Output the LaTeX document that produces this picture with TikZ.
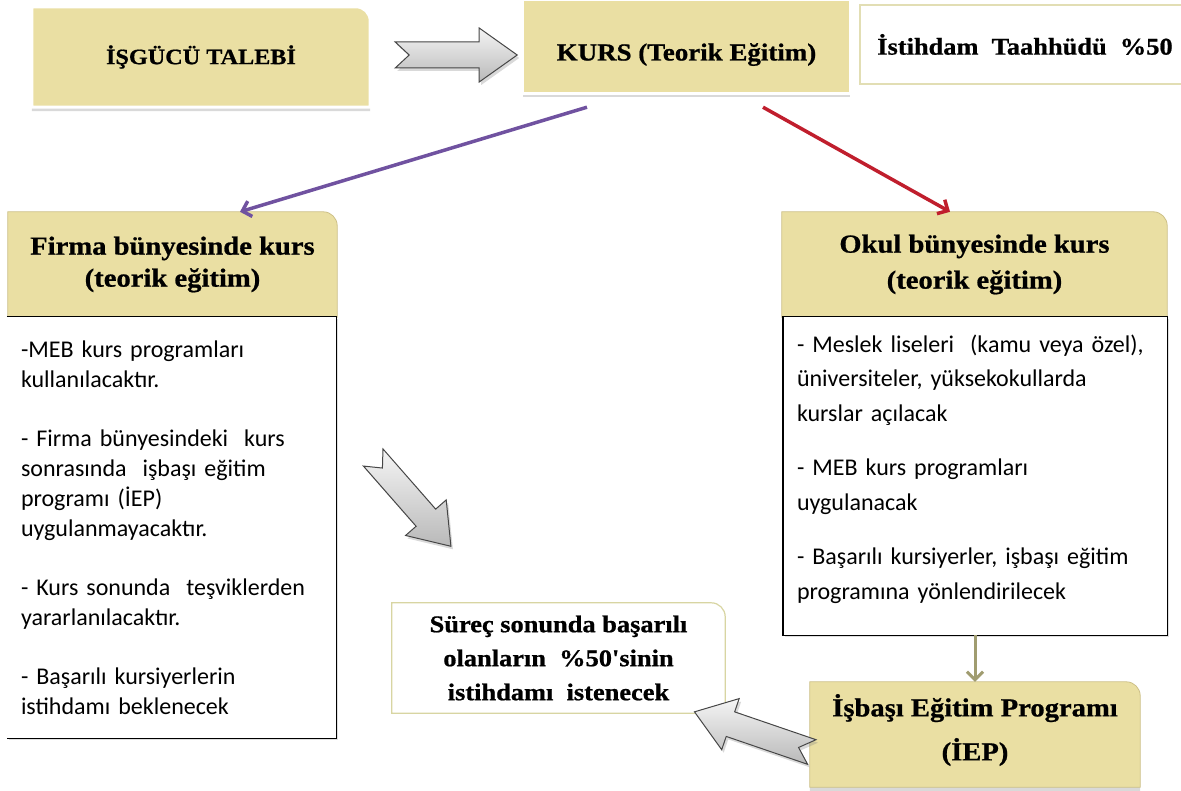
\documentclass[tikz,border=0pt]{standalone}
\usepackage{fontspec}
\newfontfamily\bodyfont{Carlito}
\newfontfamily\headfont[FakeStretch=1.1, BoldFeatures={FakeBold=0.8}]{Liberation Serif}
\usetikzlibrary{arrows.meta, calc, shadows, backgrounds}
\usepackage{xcolor}

\definecolor{tanfill}{RGB}{234,223,163}
\definecolor{tanline}{RGB}{205,192,135}
\definecolor{paleline}{RGB}{226,222,180}
\definecolor{kurspurple}{RGB}{112,82,160}
\definecolor{kursred}{RGB}{192,30,45}
\definecolor{iepolive}{RGB}{160,156,112}
\definecolor{arrowedge}{RGB}{70,70,70}

% box with one rounded corner (top right), drawn from the node's anchors
\newcommand{\cornerbox}[2][]{%
	\path[#1] (#2.south west) -- (#2.north west) -- ([xshift=-14pt]#2.north east)
		arc[start angle=90, end angle=0, radius=14pt] -- (#2.south east) -- cycle;}

\tikzset{
	headtext/.style={font=\headfont\bfseries\fontsize{26}{32}\selectfont, align=center, inner sep=0pt},
	bodytext/.style={font=\bodyfont\fontsize{24}{30}\selectfont, align=left, inner xsep=14pt, inner ysep=0pt},
	tanbox/.style={fill=tanfill, draw=tanline, line width=0.8pt,
		drop shadow={shadow xshift=0pt, shadow yshift=-4pt, opacity=0.3}},
	whitebox/.style={fill=white, draw=paleline, line width=1.6pt},
	blockarrow/.style={draw=arrowedge, line width=1pt, top color=gray!8, bottom color=gray!55,
		drop shadow={shadow xshift=2pt, shadow yshift=-3pt, opacity=0.3}},
	pics/notcharrow/.style={code={
		\path[blockarrow] (0,13) -- ({#1-38},13) -- ({#1-38},27) -- (#1,0)
			-- ({#1-38},-27) -- ({#1-38},-13) -- (0,-13) -- (14,0) -- cycle;}}
}

\begin{document}
\begin{tikzpicture}[x=1pt,y=-1pt]
	\useasboundingbox (0,0) rectangle (1181,791);

	% top row
	\node[headtext, font=\headfont\bfseries\fontsize{22}{26}\selectfont, minimum width=338pt, minimum height=100pt] (isgucu) at (201,57) {İŞGÜCÜ TALEBİ};
	\node[headtext, font=\headfont\bfseries\fontsize{24.5}{30}\selectfont, text height=32pt, text depth=4pt, minimum width=327pt, minimum height=93pt] (kurs) at (686.5,46.5) {KURS (Teorik Eğitim)};
	\node[headtext, font=\headfont\bfseries\fontsize{24}{30}\selectfont, minimum width=330pt, minimum height=79pt] (taahhut) at (1025,44.5) {İstihdam\ \ Taahhüdü\ \ \%50};

	% two branches
	\node[headtext, minimum width=329pt, minimum height=105pt] (firmahead) at (172.5,264.5) {Firma bünyesinde kurs\\(teorik eğitim)};
	\node[bodytext, text width=301pt, minimum width=327pt, minimum height=421pt] (firmabody) at (171.5,527.5)
		{-MEB kurs programları\\
		kullanılacaktır.\\[29pt]
		- Firma bünyesindeki\ \ kurs\\
		sonrasında\ \ işbaşı eğitim\\
		programı (İEP)\\
		uygulanmayacaktır.\\[29pt]
		- Kurs sonunda\ \ teşviklerden\\
		yararlanılacaktır.\\[29pt]
		- Başarılı kursiyerlerin\\
		istihdamı beklenecek};

	\node[headtext, font=\headfont\bfseries\fontsize{26}{36}\selectfont, minimum width=385pt, minimum height=105pt] (okulhead) at (974.5,264.5) {Okul bünyesinde kurs\\(teorik eğitim)};
	\node[bodytext, font=\bodyfont\fontsize{24}{34.5}\selectfont, text width=356pt, minimum width=384pt, minimum height=318pt] (okulbody) at (975,476)
		{- Meslek liseleri\ \ (kamu veya özel),\\
		üniversiteler, yüksekokullarda\\
		kurslar açılacak\\[20pt]
		- MEB kurs programları\\
		uygulanacak\\[20pt]
		- Başarılı kursiyerler, işbaşı eğitim\\
		programına yönlendirilecek\\[-16pt]\mbox{}};

	% end of the process
	\node[headtext, font=\headfont\bfseries\fontsize{26}{44}\selectfont, minimum width=330pt, minimum height=96pt] (isbasi) at (975,730) {İşbaşı Eğitim Programı\\(İEP)};
	\node[headtext, font=\headfont\bfseries\fontsize{24}{34}\selectfont, minimum width=333pt, minimum height=110pt] (surec) at (558.5,658) {Süreç sonunda başarılı\\olanların\ \ \%50'sinin\\istihdamı\ \ istenecek};

	\begin{scope}[on background layer]
		\path[tanbox, draw=white, line width=3pt] (isgucu.south west) -- (isgucu.north west) -- ([xshift=-14pt]isgucu.north east)
			arc[start angle=90, end angle=0, radius=14pt] -- (isgucu.south east) -- cycle;
		\path[tanbox, draw=white, line width=3pt] (kurs.south west) rectangle (kurs.north east);
		\path[whitebox] (taahhut.south west) rectangle (taahhut.north east);
		\cornerbox[tanbox]{firmahead}
		\cornerbox[tanbox]{okulhead}
		\path[tanbox] ([yshift=-9pt]isbasi.south west) -- (isbasi.north west) -- ([xshift=-14pt]isbasi.north east)
			arc[start angle=90, end angle=0, radius=14pt] -- ([yshift=-9pt]isbasi.south east) -- cycle;
		\cornerbox[whitebox, line width=1.2pt, draw=paleline!90!olive]{surec}
		\path[fill=white, drop shadow={shadow xshift=2pt, shadow yshift=-2pt, opacity=0.25}] (firmabody.south west) rectangle (firmabody.north east);
		\path[fill=white, draw=black, line width=1.4pt, drop shadow={shadow xshift=2pt, shadow yshift=-2pt, opacity=0.25}] (okulbody.south west) rectangle (okulbody.north east);
	\end{scope}
	\draw[line width=1.4pt] (firmabody.north west) -- (firmabody.north east) -- (firmabody.south east) -- (firmabody.south west);

	% connectors
	\draw[kurspurple, line width=3.5pt, -{Straight Barb[length=8pt, width=16pt]}] ($(kurs.south)+(-99.5,14)$) -- ($(firmahead.north)+(67.5,0)$);
	\draw[kursred, line width=3.5pt, -{Straight Barb[length=8pt, width=16pt]}] ($(kurs.south)+(76.5,14)$) -- ($(okulhead.north)+(-24.5,0)$);
	\draw[iepolive, line width=3pt, -{Straight Barb[length=8pt, width=16pt]}] (okulbody.south) -- (isbasi.north);

	% block arrows
	\path ($(isgucu.east)+(25,-2)$) pic {notcharrow=122};
	\path ($(firmabody.east)+(37,-70)$) pic[rotate=-48.8] {notcharrow=118};
	\path ($(isbasi.west)+(2,22)$) pic[rotate=161.1] {notcharrow=124};
\end{tikzpicture}
\end{document}
